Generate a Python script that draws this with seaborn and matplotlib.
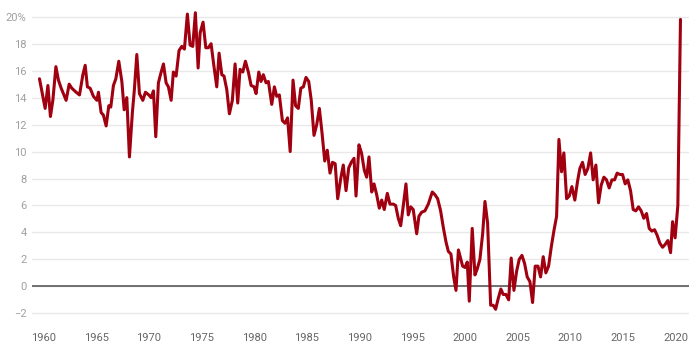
import matplotlib
matplotlib.use("Agg")
import matplotlib.pyplot as plt
import seaborn as sns
import pandas as pd

years = [1959.62, 1960.16, 1960.42, 1960.66, 1960.89, 1961.18, 1961.42, 1961.68, 1962.15, 1962.44,
         1962.69, 1963.10, 1963.42, 1963.74, 1963.96, 1964.17, 1964.43, 1964.74, 1965.07, 1965.22,
         1965.47, 1965.69, 1965.95, 1966.20, 1966.39, 1966.64, 1966.87, 1967.15, 1967.44, 1967.66,
         1967.91, 1968.16, 1968.44, 1968.63, 1968.86, 1969.11, 1969.43, 1969.68, 1970.00, 1970.22,
         1970.44, 1970.66, 1970.91, 1971.14, 1971.39, 1971.64, 1971.86, 1972.12, 1972.33, 1972.59,
         1972.87, 1973.13, 1973.38, 1973.66, 1973.92, 1974.17, 1974.42, 1974.68, 1974.87, 1975.15,
         1975.41, 1975.65, 1975.91, 1976.17, 1976.45, 1976.67, 1976.93, 1977.14, 1977.40, 1977.65,
         1977.93, 1978.19, 1978.44, 1978.66, 1978.92, 1979.17, 1979.45, 1979.71, 1979.99, 1980.18,
         1980.44, 1980.65, 1980.87, 1981.13, 1981.35, 1981.67, 1981.92, 1982.14, 1982.39, 1982.68,
         1982.93, 1983.17, 1983.42, 1983.69, 1983.93, 1984.19, 1984.43, 1984.67, 1984.92, 1985.18,
         1985.42, 1985.68, 1985.94, 1986.19, 1986.44, 1986.70, 1986.94, 1987.20, 1987.44, 1987.69,
         1987.93, 1988.22, 1988.46, 1988.72, 1988.98, 1989.22, 1989.48, 1989.67, 1989.95, 1990.19,
         1990.46, 1990.68, 1990.90, 1991.16, 1991.38, 1991.63, 1991.88, 1992.11, 1992.35, 1992.64,
         1992.89, 1993.21, 1993.43, 1993.68, 1993.91, 1994.16, 1994.41, 1994.63, 1994.86, 1995.10,
         1995.43, 1995.64, 1995.90, 1996.21, 1996.53, 1996.91, 1997.16, 1997.42, 1997.70, 1997.95,
         1998.21, 1998.43, 1998.68, 1998.94, 1999.16, 1999.39, 1999.79, 2000.01, 2000.23, 2000.42,
         2000.70, 2000.96, 2001.18, 2001.43, 2001.69, 2001.91, 2002.16, 2002.45, 2002.69, 2002.92,
         2003.17, 2003.42, 2003.64, 2003.90, 2004.16, 2004.40, 2004.66, 2004.91, 2005.16, 2005.42,
         2005.67, 2005.92, 2006.18, 2006.43, 2006.68, 2006.94, 2007.19, 2007.44, 2007.69, 2007.95,
         2008.20, 2008.45, 2008.71, 2008.93, 2009.18, 2009.40, 2009.66, 2009.91, 2010.16, 2010.44,
         2010.70, 2010.92, 2011.17, 2011.42, 2011.68, 2011.94, 2012.18, 2012.44, 2012.69, 2012.94,
         2013.20, 2013.45, 2013.70, 2013.96, 2014.21, 2014.46, 2014.71, 2014.97, 2015.22, 2015.47,
         2015.73, 2015.98, 2016.23, 2016.49, 2016.74, 2016.99, 2017.25, 2017.50, 2017.75, 2018.01,
         2018.25, 2018.51, 2018.77, 2019.01, 2019.27, 2019.53, 2019.72, 2019.96, 2020.22, 2020.47]

values = [15.4, 13.2, 14.9, 12.6, 13.8, 16.3, 15.3, 14.7, 13.8, 15.0,
          14.7, 14.4, 14.2, 15.7, 16.4, 14.8, 14.7, 14.1, 13.8, 14.4,
          12.9, 12.7, 11.9, 13.4, 13.3, 14.9, 15.4, 16.7, 15.2, 13.1,
          14.0, 9.6, 12.9, 14.6, 17.2, 14.3, 13.8, 14.4, 14.2, 14.0,
          14.5, 11.1, 15.1, 15.8, 16.5, 15.1, 14.8, 13.8, 15.9, 15.6,
          17.5, 17.8, 17.6, 20.2, 17.9, 17.8, 20.3, 16.2, 18.8, 19.6,
          17.7, 17.7, 18.0, 16.4, 14.8, 17.3, 15.7, 15.6, 14.6, 12.8,
          13.8, 16.5, 13.6, 16.1, 15.9, 16.7, 15.9, 14.9, 14.8, 14.3,
          15.9, 15.2, 15.7, 15.1, 15.2, 13.5, 14.8, 14.1, 14.2, 12.3,
          12.1, 12.5, 10.0, 15.3, 13.4, 13.2, 14.7, 14.8, 15.5, 15.2,
          13.8, 11.2, 12.0, 13.2, 11.4, 9.3, 10.1, 8.4, 9.2, 9.1,
          6.5, 8.0, 9.0, 7.1, 8.8, 9.2, 9.5, 6.7, 10.5, 9.9,
          8.6, 8.1, 9.6, 7.0, 7.6, 6.8, 5.8, 6.4, 5.7, 6.9,
          6.1, 6.1, 6.0, 5.05, 4.5, 6.0, 7.6, 5.3, 5.9, 5.7,
          3.9, 5.2, 5.5, 5.6, 6.1, 7.0, 6.8, 6.5, 5.6, 4.4,
          3.3, 2.6, 2.4, 0.7, -0.3, 2.7, 1.5, 1.4, 1.8, -1.1,
          4.3, 0.85, 1.3, 2.0, 3.9, 6.3, 4.7, -1.4, -1.4, -1.7,
          -0.9, -0.2, -0.6, -0.6, -1.0, 2.1, -0.3, 1.1, 2.0, 2.3,
          1.7, 0.7, 0.35, -1.2, 1.5, 1.5, 0.7, 2.2, 1.0, 1.5,
          2.9, 4.1, 5.2, 10.9, 8.5, 9.9, 6.5, 6.7, 7.4, 6.4,
          7.8, 8.75, 9.2, 8.3, 8.75, 9.9, 7.9, 9.0, 6.2, 7.5,
          8.1, 7.9, 7.3, 7.9, 7.9, 8.4, 8.3, 8.3, 7.6, 7.9,
          7.1, 5.7, 5.6, 5.9, 5.6, 5.05, 5.4, 4.3, 4.1, 4.2,
          3.8, 3.2, 2.9, 3.1, 3.4, 2.5, 4.8, 3.6, 6.0, 19.8]

x_ticks = [1960, 1965, 1970, 1975, 1980, 1985, 1990, 1995, 2000, 2005, 2010, 2015, 2020]
y_ticks = [-2, 0, 2, 4, 6, 8, 10, 12, 14, 16, 18, 20]
y_labels = ["\u22122", "0", "2", "4", "6", "8", "10", "12", "14", "16", "18", "20%"]

sns.set_theme(style="white")
plt.rcParams['font.family'] = ['Roboto', 'DejaVu Sans']

df = pd.DataFrame({"year": years, "value": values})

fig = plt.figure(figsize=(7.0, 3.58), dpi=100)
ax = fig.add_axes([0.046, 0.106, 0.938, 0.866])

ax.set_ylim(-2.5, 20.5)
ax.set_xlim(1958.93, 2021.26)
ax.set_yticks(y_ticks)
ax.set_yticklabels(y_labels)
ax.set_xticks(x_ticks)
ax.set_xticklabels([str(t) for t in x_ticks])
ax.grid(axis="y", color="#e8e8e8", linewidth=1.0)
ax.grid(axis="x", visible=False)
ax.set_axisbelow(True)
ax.axhline(0, color="#666666", linewidth=1.3, zorder=2)

sns.lineplot(data=df, x="year", y="value", ax=ax, color="#a0000f", linewidth=2.2, zorder=3)

ax.set_xlabel("")
ax.set_ylabel("")
for s in ax.spines.values():
    s.set_visible(False)
ax.tick_params(axis="both", length=0, labelsize=8, labelcolor="#a0a0a0")
ax.tick_params(axis="x", pad=9, labelcolor="#666666")
ax.tick_params(axis="y", pad=4)

fig.savefig("out.png", dpi=100)
